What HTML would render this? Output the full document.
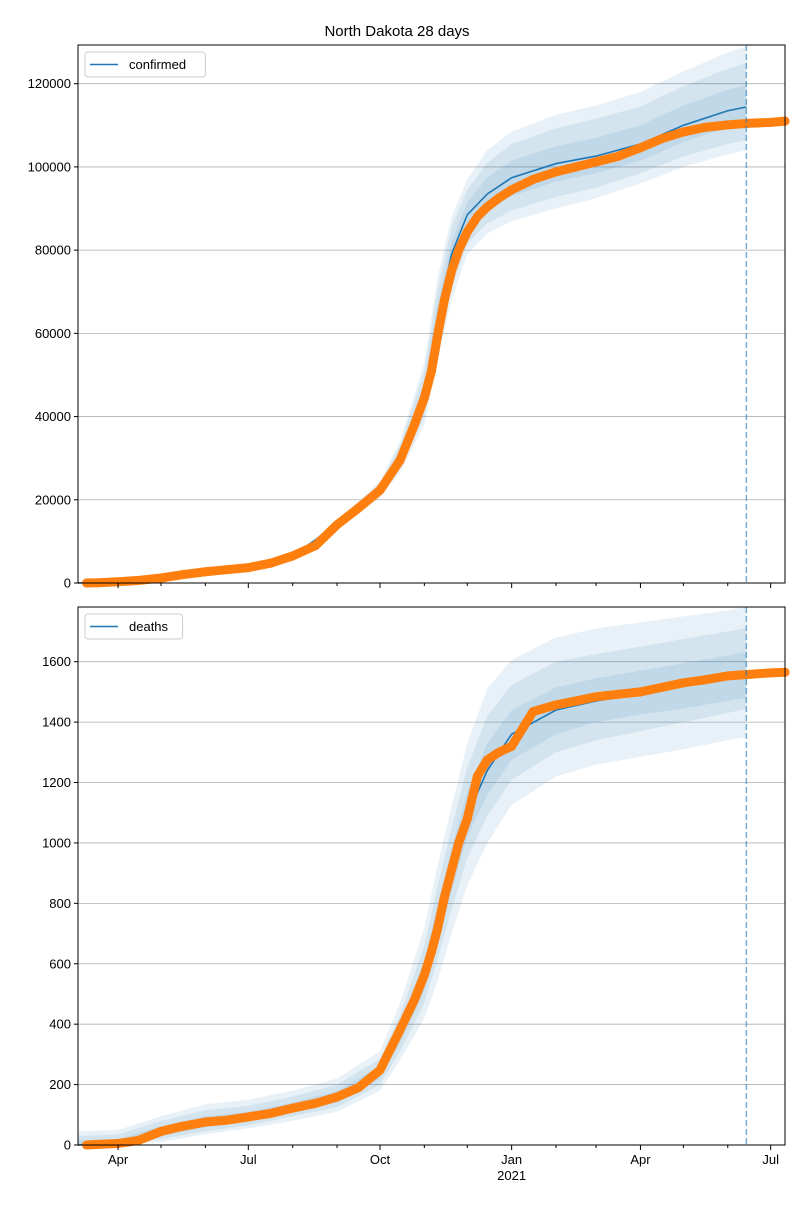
<!DOCTYPE html>
<html><head><meta charset="utf-8"><style>
body{margin:0;background:#fff}
svg{font-family:"Liberation Sans","DejaVu Sans",sans-serif}
</style></head><body>
<svg id="c" width="800" height="1200" xmlns="http://www.w3.org/2000/svg">
<text x="397" y="36" font-size="15" text-anchor="middle">North Dakota 28 days</text>
</svg>
<script>
// days since 2020-03-04
const bandDays=[0,28,58,89,119,150,181,211,225,242,251,261,272,286,303,334,362,393,423,454,467];
const confCenter=[0,300,1200,2700,3700,6500,14000,22500,30000,45000,63000,79000,88500,93500,97400,100800,102600,105500,110000,113500,114400];
const confU3=[0,300,1200,2700,3700,6700,14800,24500,34000,53000,73000,88000,97000,104000,108500,112500,114800,118000,123000,127500,129000];
const confL3=[0,300,1200,2700,3700,6300,13200,20500,26500,38000,53000,68000,79000,84000,87000,90000,92500,96000,100000,103000,104000];
const confU2=[0,300,1200,2700,3700,6650,14600,24000,33000,51000,70000,85500,94500,101000,105500,109300,111600,114500,119400,123600,125000];
const confL2=[0,300,1200,2700,3700,6400,13500,21000,27500,40000,56000,71000,81500,86500,89500,92800,95000,98500,102500,105500,106500];
const confU1=[0,300,1200,2700,3700,6550,14300,23200,31500,48000,66500,82000,91500,97500,101500,105000,107000,110000,114800,118500,119700];
const confL1=[0,300,1200,2700,3700,6450,13700,21800,28700,42500,59500,75000,85000,89500,93000,96500,98500,101500,106000,109500,110600];
const deathCenter=[0,5,45,75,92,120,158,240,370,560,720,900,1090,1240,1360,1440,1470,1495,1520,1545,1556];
const deathU3=[45,50,95,135,150,180,220,310,470,720,920,1120,1330,1510,1606,1680,1710,1730,1750,1770,1781];
const deathL3=[0,0,10,35,55,80,110,180,280,420,540,700,860,1000,1126,1220,1260,1285,1310,1340,1350];
const deathU2=[30,35,80,115,130,160,200,285,430,660,850,1050,1250,1420,1523,1600,1625,1650,1675,1700,1712];
const deathL2=[0,0,20,45,65,95,125,200,310,470,610,780,950,1090,1209,1300,1340,1370,1400,1430,1445];
const deathU1=[15,20,62,95,110,140,180,260,400,610,790,980,1170,1330,1440,1515,1545,1570,1595,1620,1632];
const deathL1=[0,0,30,58,78,108,140,220,340,510,660,840,1020,1160,1275,1360,1400,1425,1445,1470,1480];
const obsDays=[6,14,28,42,58,73,89,104,119,135,150,166,181,196,211,225,235,242,247,251,256,261,266,272,279,286,294,303,318,334,348,362,377,393,408,423,438,454,469,484,494];
const obsConf=[0,50,300,600,1200,2000,2700,3200,3700,4800,6500,9000,14000,18000,22300,29500,38000,44500,51000,59000,68000,75000,80000,84400,88000,90400,92500,94500,97000,98800,100000,101200,102500,104600,106800,108400,109500,110100,110500,110700,111000];
const obsDeath=[0,2,5,15,45,62,76,82,93,105,122,138,159,190,248,381,480,563,640,712,820,910,1000,1080,1220,1275,1300,1320,1435,1457,1470,1484,1492,1500,1515,1530,1540,1553,1558,1563,1565];
const monthDays=[-3,28,58,89,119,150,181,211,242,272,303,334,362,393,423,454,484];
const labelDays=[28,119,211,303,393,484];
const labelText=["Apr","Jul","Oct","Jan","Apr","Jul"];
const confTicks=[0,20000,40000,60000,80000,100000,120000];
const deathTicks=[0,200,400,600,800,1000,1200,1400,1600];
const forecastDay=467;

const svg=document.getElementById('c'),NS='http://www.w3.org/2000/svg';
const L=78,R=785,X0=0,X1=494;
const x=d=>L+(d-X0)/(X1-X0)*(R-L);
function mk(t,a,p){const e=document.createElementNS(NS,t);for(const k in a)e.setAttribute(k,a[k]);(p||svg).appendChild(e);return e;}
function panel(top,bot,ymax,center,bands,obsVals,ticks,legend,name,showLabels){
  const y=v=>bot-v/ymax*(bot-top);
  const g=mk('g',{});
  
  
  ticks.forEach(t=>{
    const ln=mk('line',{x1:L,x2:R,y1:y(t),y2:y(t),stroke:'#b0b0b0','stroke-width':0.8},g);
    
    
    mk('line',{x1:L-4,x2:L,y1:y(t),y2:y(t),stroke:'#000'},g);
    const tx=mk('text',{x:L-7,y:y(t)+4.5,'font-size':13,'text-anchor':'end'},g);tx.textContent=t;
    
    
  });
  bands.forEach(([u,l])=>{
    let pts=bandDays.map((d,i)=>x(d)+','+y(u[i]));
    pts=pts.concat(bandDays.map((d,i)=>x(d)+','+y(l[i])).reverse());
    const p=mk('polygon',{points:pts.join(' '),fill:'#1f77b4','fill-opacity':0.1},g);
    
    
  });
  const ml=mk('polyline',{points:bandDays.map((d,i)=>x(d)+','+y(center[i])).join(' '),fill:'none',stroke:'#1f77b4','stroke-width':1.6},g);
  
  
  const ol=mk('polyline',{points:obsDays.map((d,i)=>x(d)+','+y(obsVals[i])).join(' '),fill:'none',stroke:'#ff7f0e','stroke-width':9,'stroke-linecap':'round','stroke-linejoin':'round'},g);
  
  
  obsDays.forEach((d,i)=>{
    const c=mk('circle',{cx:x(d),cy:y(obsVals[i]),r:4.5,fill:'#ff7f0e'},g);
    
    
  });
  const fl=mk('line',{x1:x(forecastDay),x2:x(forecastDay),y1:top,y2:bot,stroke:'#1f77b4','stroke-opacity':0.6,'stroke-dasharray':'6,3','stroke-width':1.5},g);
  
  
  const fr=mk('rect',{x:L,y:top,width:R-L,height:bot-top,fill:'none',stroke:'#000','stroke-width':1},g);
  
  
  monthDays.forEach(d=>{ if(d<X0)return; const maj=labelDays.includes(d);
    mk('line',{x1:x(d),x2:x(d),y1:bot,y2:bot+(maj?5:3),stroke:'#000'},g);});
  if(showLabels){labelDays.forEach((d,i)=>{const t=mk('text',{x:x(d),y:bot+19,'font-size':13,'text-anchor':'middle'},g);t.textContent=labelText[i];
    
    });
    const yr=mk('text',{x:x(303),y:bot+35,'font-size':13,'text-anchor':'middle'},g);yr.textContent='2021';
    
    }
  const lg=mk('g',{},g);
  
  
  const w=legend.length*7.6+52;
  mk('rect',{x:85,y:top+7,width:w,height:25,rx:3,fill:'#fff','fill-opacity':0.8,stroke:'#ccc'},lg);
  mk('line',{x1:90,x2:118,y1:top+19.5,y2:top+19.5,stroke:'#1f77b4','stroke-width':1.6},lg);
  const lt=mk('text',{x:129,y:top+24,'font-size':13},lg);lt.textContent=legend;
  
  
}
panel(45,583,129300,confCenter,[[confU3,confL3],[confU2,confL2],[confU1,confL1]],obsConf,confTicks,'confirmed','confirmed',false);
panel(607,1145,1781,deathCenter,[[deathU3,deathL3],[deathU2,deathL2],[deathU1,deathL1]],obsDeath,deathTicks,'deaths','deaths',true);
</script>
</body></html>
